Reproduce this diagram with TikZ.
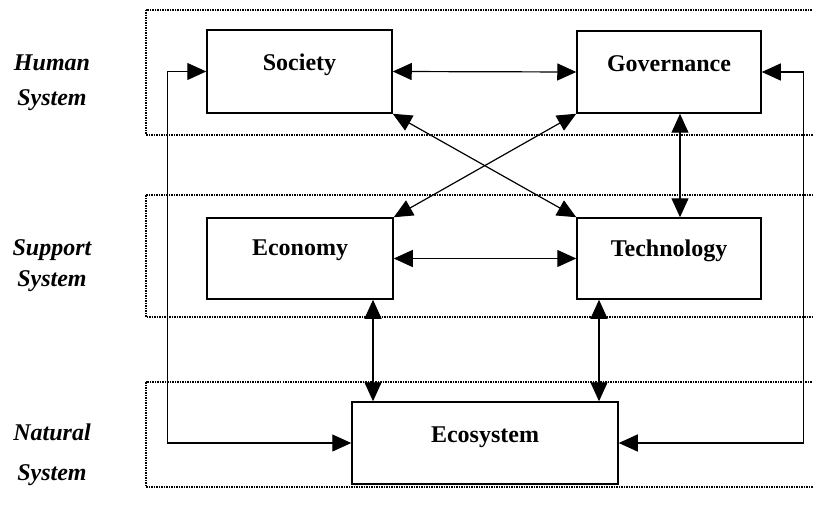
\documentclass[tikz,border=0pt]{standalone}
\usepackage{fontspec}
\setmainfont{Liberation Serif}
\usetikzlibrary{calc, arrows.meta}
\tikzset{
    sysbox/.style={draw, line width=1.5pt, inner sep=0pt},
    boxtext/.style={font=\fontsize{24}{28}\selectfont\bfseries},
    bandline/.style={line width=1.1pt, dash pattern=on 1.5pt off 1pt},
    sidetext/.style={font=\fontsize{24}{28}\selectfont\bfseries\itshape},
    biarrow/.style={line width=1.2pt, {Triangle[length=19pt,width=17pt]}-{Triangle[length=19pt,width=17pt]}}
}
\begin{document}
\begin{tikzpicture}[x=1pt, y=-1pt]

\useasboundingbox (0,0) rectangle (813,505);
\clip (0,0) rectangle (813,505);

% Bandas punteadas de cada sistema.
\draw[bandline] (146,10) rectangle (830,135);
\draw[bandline] (146,195) rectangle (830,317);
\draw[bandline] (146,382) rectangle (830,487);

% Nombres de los sistemas.
\node[sidetext] (hum1) at (52,63) {Human};
\node[sidetext] (hum2) at (52,100) {System};
\node[sidetext] (sup1) at (52,250) {Support};
\node[sidetext] (sup2) at (52,281) {System};
\node[sidetext] (nat1) at (52,432) {Natural};
\node[sidetext] (nat2) at (52,475) {System};

% Cajas.
\node[sysbox, minimum width=185pt, minimum height=83pt,
    label={[boxtext, yshift=7pt]center:Society}] (soc) at (299.5,71.5) {};
\node[sysbox, minimum width=184pt, minimum height=82pt,
    label={[boxtext, yshift=8pt]center:Governance}] (gov) at (669,72) {};
\node[sysbox, minimum width=186pt, minimum height=81pt,
    label={[boxtext, yshift=8pt]center:Economy}] (eco) at (300,258.5) {};
\node[sysbox, minimum width=184pt, minimum height=81pt,
    label={[boxtext, yshift=8pt]center:Technology}] (tech) at (669,258.5) {};
\node[sysbox, minimum width=266pt, minimum height=82pt,
    label={[boxtext, yshift=6pt]center:Ecosystem}] (ecosys) at (485,443) {};

% Puntos de salida de las flechas verticales.
\coordinate (govS) at ($(gov.south)+(11,0)$);
\coordinate (ecoS) at ($(eco.south)+(73,0)$);
\coordinate (techS) at ($(tech.south)+(-70,0)$);

% Flechas entre cajas.
\draw[biarrow] (soc.east) -- (gov.west);
\draw[biarrow] (eco.east) -- (tech.west);
\draw[biarrow] (govS) -- (govS |- tech.north);
\draw[biarrow] (soc.south east) -- (tech.north west);
\draw[biarrow] (gov.south west) -- (eco.north east);
\draw[biarrow] (ecoS) -- (ecoS |- ecosys.north);
\draw[biarrow] (techS) -- (techS |- ecosys.north);

% Lazos exteriores hacia el ecosistema.
\draw[biarrow] (soc.west) -- ++(-39,0) |- (ecosys.west);
\draw[biarrow] (gov.east) -- ++(42,0) |- (ecosys.east);

\end{tikzpicture}
\end{document}
